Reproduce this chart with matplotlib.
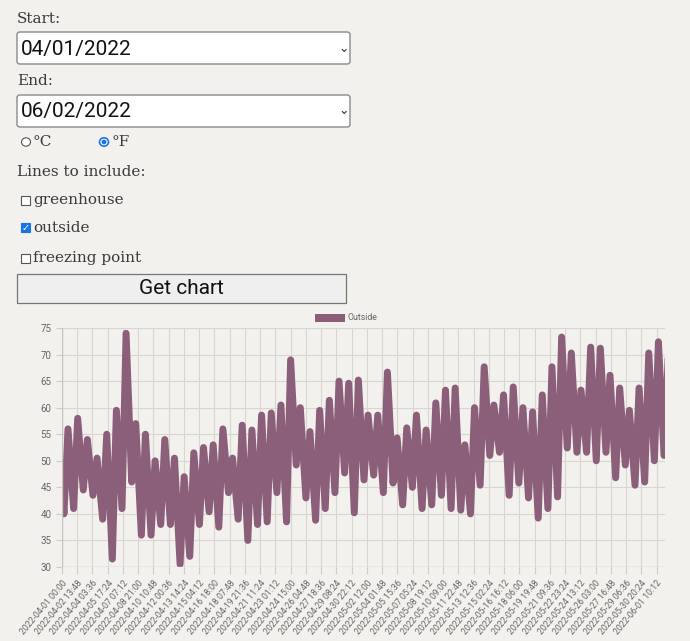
import matplotlib
matplotlib.use("Agg")
import matplotlib.pyplot as plt
from matplotlib.patches import FancyBboxPatch, Rectangle, Circle
from matplotlib.lines import Line2D

highs = [56,58,54,50.5,55,59.5,74,57,55,50,54,50.5,47,51.5,52.5,53,56,50.5,56.7,55.8,58.6,
         59,60.5,69,60,55.5,59.5,61.4,65,64.6,65.2,58.6,58.6,66.7,54.3,56.2,58.6,55.8,60.9,63.3,63.7,53,
         60,67.7,60.5,62.4,63.9,60,59.2,62.4,67.7,73.3,70.3,63.3,71.4,71.2,66.1,63.7,59.5,63.7,70.3,72.4,69.3]
lows = [40,41,44.5,43.5,39,31.5,41,46,36,36,38,38,30.5,32,38,40.4,37.5,44,39,35,38,
        38.5,44,38.5,49.2,43,38.8,41,44,47.7,40.2,46.4,47.3,44,45.8,41.7,45,41,41.7,43.5,41,40.7,
        40,45.4,51,51.6,43.5,45.8,43,39.2,41,43.2,52.4,51.6,51.6,50,51.6,46.8,49.2,45.4,46,50,51]
start_value = 46
end_value = 61
tick_labels = ["2022-04-01 00:00","2022-04-02 13:48","2022-04-04 03:36","2022-04-05 17:24","2022-04-07 07:12",
"2022-04-08 21:00","2022-04-10 10:48","2022-04-12 00:36","2022-04-13 14:24","2022-04-15 04:12",
"2022-04-16 18:00","2022-04-18 07:48","2022-04-19 21:36","2022-04-21 11:24","2022-04-23 01:12",
"2022-04-24 15:00","2022-04-26 04:48","2022-04-27 18:36","2022-04-29 08:24","2022-04-30 22:12",
"2022-05-02 12:00","2022-05-04 01:48","2022-05-05 15:36","2022-05-07 05:24","2022-05-08 19:12",
"2022-05-10 09:00","2022-05-11 22:48","2022-05-13 12:36","2022-05-15 02:24","2022-05-16 16:12",
"2022-05-18 06:00","2022-05-19 19:48","2022-05-21 09:36","2022-05-22 23:24","2022-05-24 13:12",
"2022-05-26 03:00","2022-05-27 16:48","2022-05-29 06:36","2022-05-30 20:24","2022-06-01 10:12"]

BG = "#f3f1ed"
LINE = "#8b5e7a"
W, H = 690, 641
fig = plt.figure(figsize=(6.9, 6.41), dpi=100, facecolor=BG)

def P(x, y):
    return (x / W, 1 - y / H)

serif = "DejaVu Serif"
txtc = "#3a3a3a"
def label(x, y, s, size=11):
    fig.text(*P(x, y), s, fontsize=size, family=serif, color=txtc, va="center", ha="left")

def selectbox(y0, y1, s):
    x0, y0p = P(17, y1)
    w = (350 - 17) / W
    h = (y1 - y0) / H
    fig.patches.append(FancyBboxPatch((x0, y0p), w, h, boxstyle="round,pad=0,rounding_size=0.004",
                                      transform=fig.transFigure, fc="white", ec="#8a8a8a", lw=1))
    fig.text(*P(21, (y0 + y1) / 2 + 1), s, fontsize=15, family="Roboto", color="#111", va="center")
    fig.text(*P(344, (y0 + y1) / 2), "⌄", fontsize=9, family="DejaVu Sans", color="#333", va="center", ha="center")

label(17, 19, "Start:")
selectbox(32, 64, "04/01/2022")
label(17, 81, "End:")
selectbox(95, 127, "06/02/2022")

# radios
fig.patches.append(Circle(P(26, 142), 4.5 / W, transform=fig.transFigure, fc="white", ec="#555", lw=0.8))
label(33, 142, "°C")
fig.patches.append(Circle(P(104, 142), 4.5 / W, transform=fig.transFigure, fc="white", ec="#1a73e8", lw=1.2))
fig.patches.append(Circle(P(104, 142), 2.5 / W, transform=fig.transFigure, fc="#1a73e8", ec="none"))
label(112, 142, "°F")
label(17, 172, "Lines to include:")

def checkbox(y, s, checked=False):
    x0, y0 = P(21, y + 4.5)
    if checked:
        fig.patches.append(Rectangle((x0, y0), 9 / W, 9 / H, transform=fig.transFigure, fc="#1a73e8", ec="#1a73e8", lw=0.8))
        fig.text(*P(25.5, y), "✓", fontsize=7, family="DejaVu Sans", color="white", va="center", ha="center", weight="bold")
    else:
        fig.patches.append(Rectangle((x0, y0), 9 / W, 9 / H, transform=fig.transFigure, fc="white", ec="#555", lw=0.8))
    label(33, y, s)

checkbox(200, "greenhouse")
checkbox(228, "outside", True)
checkbox(258, "freezing point")

bx, by = P(17, 303)
fig.patches.append(Rectangle((bx, by), (346 - 17) / W, (303 - 274) / H, transform=fig.transFigure,
                             fc="#efefef", ec="#767676", lw=0.9))
fig.text(*P(181, 289), "Get chart", fontsize=15, family="Roboto", color="#111", va="center", ha="center")

# chart
ax = fig.add_axes([62 / W, 1 - 567 / H, 603 / W, (567 - 328) / H])
ax.set_facecolor(BG)
xs = [0.0]
ys = [start_value]
for d in range(len(highs)):
    xs += [d + 0.2, d + 0.62]
    ys += [lows[d], highs[d]]
ax.plot(xs[:len(xs)], ys, color=LINE, lw=5, solid_joinstyle="round", solid_capstyle="round")
step = 37.8 / 24
ticks = [i * step for i in range(len(tick_labels))]
ax.set_xlim(0, 62.3)
ax.set_ylim(30, 75)
ax.set_xticks(ticks)
ax.set_xticklabels(tick_labels, rotation=50, ha="right", rotation_mode="anchor", fontsize=6.3, color="#666", family="Roboto")
ax.set_yticks(range(30, 76, 5))
ax.tick_params(axis="y", labelsize=7, colors="#666", length=4, color="#ccc")
ax.tick_params(axis="x", length=5, color="#ccc")
for t in ax.get_yticklabels():
    t.set_family("Roboto")
ax.grid(True, color="#d9d6d2", lw=0.8)
for s in ax.spines.values():
    s.set_visible(False)
ax.axhline(30, color="#c8c5c1", lw=1)
ax.axvline(0, color="#c8c5c1", lw=1)

lx, ly = P(315, 322)
fig.patches.append(Rectangle((lx, ly), 30 / W, 8 / H, transform=fig.transFigure, fc=LINE, ec="none"))
fig.text(*P(348, 318), "Outside", fontsize=6.3, family="Roboto", color="#666", va="center")

fig.savefig("out.png", dpi=100, facecolor=BG)
